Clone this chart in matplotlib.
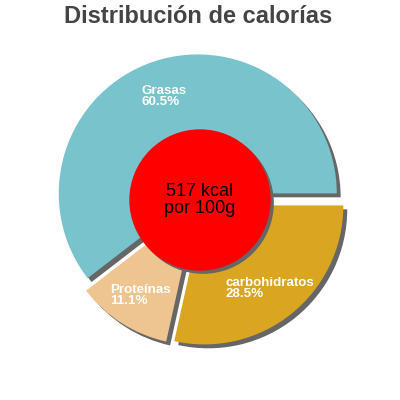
import numpy as np
import matplotlib
matplotlib.use("Agg")
import matplotlib.pyplot as plt

# calorie split per 100 g
labels = ["Grasas", "Proteínas", "carbohidratos"]
values = [60.5, 11.1, 28.5]
colors = ["#79c3cc", "#eec591", "#daa520"]
title = "Distribución de calorías"
center_text = "517 kcal\npor 100g"

plt.rcParams['font.family'] = ['Liberation Sans', 'DejaVu Sans']

radius_px = 139.0
explode = [0.05] * len(values)
shadow_off = 0.028

fig = plt.figure(figsize=(4, 4), dpi=100)
ax = fig.add_axes([0, 0, 1, 1])

# shadow first, shifted down-right
ax.pie(values, explode=explode, colors=["#666666"] * len(values),
       startangle=0, counterclock=True, center=(shadow_off, -shadow_off))
wedges, _ = ax.pie(values, explode=explode, colors=colors,
                   startangle=0, counterclock=True)

# labels inside each wedge
total = sum(values)
start = 0.0
for lab, val, ex in zip(labels, values, explode):
    ang = np.radians(start + 360 * val / total / 2)
    start += 360 * val / total
    d = 0.75 + ex
    ax.text(d * np.cos(ang), d * np.sin(ang) - 0.015,
            "{}\n{:.1f}%".format(lab, val),
            ha='center', va='center', multialignment='left',
            color='white', fontsize=9.6, fontweight='bold', linespacing=0.9)

# red centre disc with shadow
r_in = 70 / radius_px
ax.add_patch(plt.Circle((shadow_off * 0.8, -shadow_off * 0.8), r_in,
                        color="#666666", zorder=5))
ax.add_patch(plt.Circle((0, 0), r_in, color="#ff0000", zorder=6))
ax.text(0, 0, center_text, ha='center', va='center', fontsize=13,
        color='black', zorder=7, linespacing=0.95)

lim = 200 / radius_px
ax.set_xlim(-lim, lim)
ax.set_ylim(-lim, lim)
ax.set_aspect('equal')
ax.axis('off')

fig.text(0.495, 1 - 16.5 / 400, title, ha='center', va='center',
         fontsize=17, fontweight='bold', color='#444444')

fig.savefig("out.png", dpi=100)
